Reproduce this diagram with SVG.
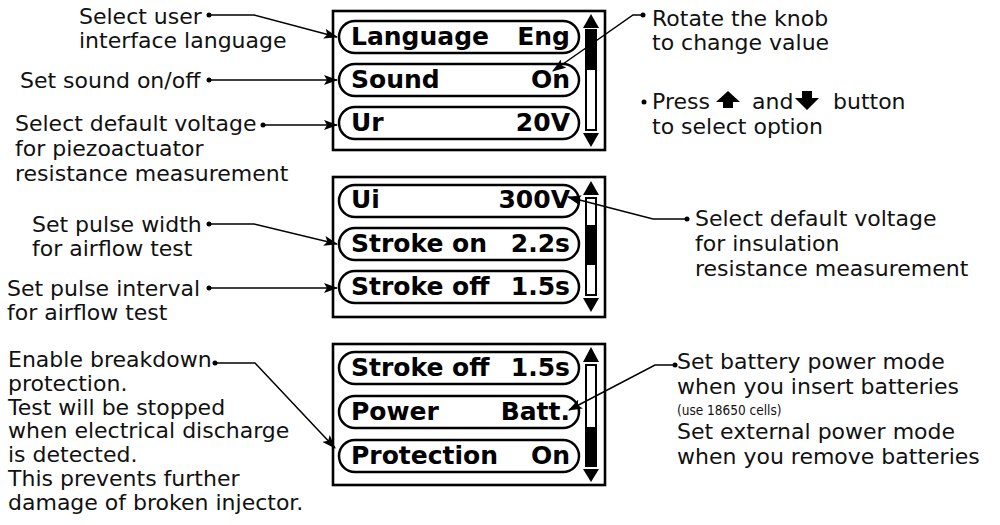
<svg xmlns="http://www.w3.org/2000/svg" width="1000" height="525" viewBox="0 0 1000 525">
<style>
.lbl{font-family:"DejaVu Sans",sans-serif;font-size:22px;fill:#111}
.small{font-family:"DejaVu Sans Condensed","DejaVu Sans",sans-serif;font-size:13.5px;fill:#111}
.lcd{font-family:"DejaVu Sans",sans-serif;font-weight:bold;font-size:25px;fill:#000}
.frame{fill:#fff;stroke:#000;stroke-width:2.6}
.pill{fill:#fff;stroke:#000;stroke-width:2.5}
.sb{fill:#fff;stroke:#000;stroke-width:2}
.con{fill:none;stroke:#000;stroke-width:1.5}
.dot{fill:#000}
</style>
<defs>
<marker id="ah" viewBox="0 0 14 10" refX="13" refY="5" markerWidth="14" markerHeight="10" markerUnits="userSpaceOnUse" orient="auto">
<path d="M0,0 L14,5 L0,10 L3,5 Z" fill="#000"/>
</marker>
</defs>
<rect width="1000" height="525" fill="#fff"/>

<g id="panel1">
<rect class="frame" x="333" y="11" width="272" height="139"/>
<rect class="pill" x="339" y="21" width="240" height="32" rx="16"/>
<text class="lcd" x="351" y="45">Language</text><text class="lcd" x="570" y="45" text-anchor="end">Eng</text>
<rect class="pill" x="339" y="64" width="240" height="32" rx="16"/>
<text class="lcd" x="351" y="88">Sound</text><text class="lcd" x="570" y="88" text-anchor="end">On</text>
<rect class="pill" x="339" y="107" width="240" height="32" rx="16"/>
<text class="lcd" x="351" y="131">Ur</text><text class="lcd" x="570" y="131" text-anchor="end">20V</text>
<polygon points="591,14 583,28 599,28"/>
<rect class="sb" x="586" y="30" width="10" height="100"/>
<rect x="586" y="30" width="10" height="40"/>
<polygon points="583,133 599,133 591,147"/>
</g>

<g id="panel2">
<rect class="frame" x="333" y="177" width="272" height="140"/>
<rect class="pill" x="339" y="185" width="240" height="32" rx="16"/>
<text class="lcd" x="351" y="208">Ui</text><text class="lcd" x="570" y="208" text-anchor="end">300V</text>
<rect class="pill" x="339" y="228" width="240" height="32" rx="16"/>
<text class="lcd" x="351" y="252">Stroke on</text><text class="lcd" x="570" y="252" text-anchor="end">2.2s</text>
<rect class="pill" x="339" y="271" width="240" height="32" rx="16"/>
<text class="lcd" x="351" y="295">Stroke off</text><text class="lcd" x="570" y="295" text-anchor="end">1.5s</text>
<polygon points="591,181 583,195 599,195"/>
<rect class="sb" x="586" y="198" width="10" height="97"/>
<rect x="586" y="225" width="10" height="40"/>
<polygon points="583,298 599,298 591,312"/>
</g>

<g id="panel3">
<rect class="frame" x="333" y="344" width="272" height="141"/>
<rect class="pill" x="339" y="352" width="240" height="32" rx="16"/>
<text class="lcd" x="351" y="376">Stroke off</text><text class="lcd" x="570" y="376" text-anchor="end">1.5s</text>
<rect class="pill" x="339" y="396" width="240" height="32" rx="16"/>
<text class="lcd" x="351" y="420">Power</text><text class="lcd" x="570" y="420" text-anchor="end">Batt.</text>
<rect class="pill" x="339" y="440" width="240" height="32" rx="16"/>
<text class="lcd" x="351" y="464">Protection</text><text class="lcd" x="570" y="464" text-anchor="end">On</text>
<polygon points="591,347 583,362 599,362"/>
<rect class="sb" x="586" y="365" width="10" height="101"/>
<rect x="586" y="427" width="10" height="39"/>
<polygon points="583,469 599,469 591,482"/>
</g>

<g id="label-language">
<text class="lbl" x="79" y="24">Select user</text>
<text class="lbl" x="79" y="48">interface language</text>
</g>
<g id="label-sound">
<text class="lbl" x="20" y="88">Set sound on/off</text>
</g>
<g id="label-ur">
<text class="lbl" x="15" y="131">Select default voltage</text>
<text class="lbl" x="15" y="156">for piezoactuator</text>
<text class="lbl" x="15" y="181">resistance measurement</text>
</g>
<g id="label-pulse-width">
<text class="lbl" x="32" y="232">Set pulse width</text>
<text class="lbl" x="32" y="256">for airflow test</text>
</g>
<g id="label-pulse-interval">
<text class="lbl" x="7" y="296">Set pulse interval</text>
<text class="lbl" x="7" y="320">for airflow test</text>
</g>
<g id="label-protection">
<text class="lbl" x="8" y="367">Enable breakdown</text>
<text class="lbl" x="8" y="391">protection.</text>
<text class="lbl" x="8" y="415">Test will be stopped</text>
<text class="lbl" x="8" y="438">when electrical discharge</text>
<text class="lbl" x="8" y="462">is detected.</text>
<text class="lbl" x="8" y="486">This prevents further</text>
<text class="lbl" x="8" y="510">damage of broken injector.</text>
</g>
<g id="label-knob">
<text class="lbl" x="652" y="26">Rotate the knob</text>
<text class="lbl" x="652" y="50">to change value</text>
</g>
<g id="label-press">
<circle class="dot" cx="644" cy="102" r="2.5"/>
<text class="lbl" x="652" y="109">Press</text>
<polygon points="728,91 740,102 733,102 733,108 723,108 723,102 716,102"/>
<text class="lbl" x="752" y="109">and</text>
<polygon points="802,91 812,91 812,98 819,98 807,110 795,98 802,98"/>
<text class="lbl" x="833" y="109">button</text>
<text class="lbl" x="652" y="134">to select option</text>
</g>
<g id="label-ui">
<text class="lbl" x="695" y="226">Select default voltage</text>
<text class="lbl" x="695" y="251">for insulation</text>
<text class="lbl" x="695" y="276">resistance measurement</text>
</g>
<g id="label-power">
<text class="lbl" x="677" y="369">Set battery power mode</text>
<text class="lbl" x="677" y="394">when you insert batteries</text>
<text class="small" x="677" y="415">(use 18650 cells)</text>
<text class="lbl" x="677" y="439">Set external power mode</text>
<text class="lbl" x="677" y="464">when you remove batteries</text>
</g>

<g id="connectors">
<path class="con" d="M209,15 L254,15 L337,37" marker-end="url(#ah)"/>
<path class="con" d="M209,80 L337,80" marker-end="url(#ah)"/>
<path class="con" d="M263,125 L337,125" marker-end="url(#ah)"/>
<path class="con" d="M209,224 L254,224 L337,244" marker-end="url(#ah)"/>
<path class="con" d="M209,288 L337,288" marker-end="url(#ah)"/>
<path class="con" d="M215,363 L255,363 L335,448" marker-end="url(#ah)"/>
<path class="con" d="M643,15 L633,15 L553,71" marker-end="url(#ah)"/>
<path class="con" d="M687,219 L653,219 L568,197" marker-end="url(#ah)"/>
<path class="con" d="M675,365 L655,365 L569,410" marker-end="url(#ah)"/>
<circle class="dot" cx="209" cy="15" r="2.5"/>
<circle class="dot" cx="209" cy="80" r="2.5"/>
<circle class="dot" cx="263" cy="125" r="2.5"/>
<circle class="dot" cx="209" cy="224" r="2.5"/>
<circle class="dot" cx="209" cy="288" r="2.5"/>
<circle class="dot" cx="215" cy="363" r="2.5"/>
<circle class="dot" cx="643" cy="15" r="2.5"/>
<circle class="dot" cx="687" cy="219" r="2.5"/>
<circle class="dot" cx="675" cy="365" r="2.5"/>
</g>
</svg>
